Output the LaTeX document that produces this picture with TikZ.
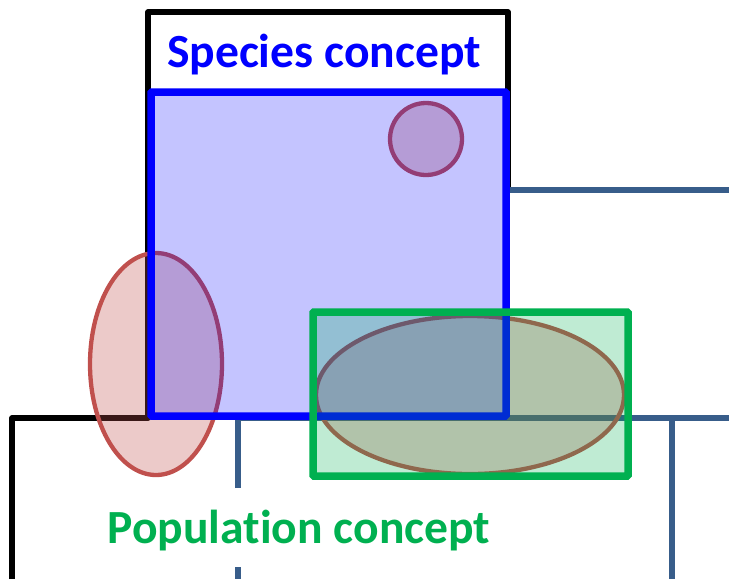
\documentclass[tikz,border=0pt]{standalone}
\usepackage{fontspec}
\setmainfont{Carlito}[Ligatures=NoCommon]
\usepackage{tikz}
\usetikzlibrary{shapes.geometric}
\definecolor{treeblue}{HTML}{385D8A}
\definecolor{cladered}{HTML}{C0504D}
\definecolor{popgreen}{HTML}{00B050}

\begin{document}
\begin{tikzpicture}[x=1pt, y=-1pt, font=\bfseries\fontsize{47.6}{56}\selectfont,
  branch/.style={line width=5.5pt, line join=round},
  group/.style={ellipse, draw=cladered, line width=4.3pt, fill=cladered, fill opacity=0.3, inner sep=0pt},
  concept/.style={rectangle, line width=7.5pt, rounded corners=1pt, inner sep=0pt},
  label/.style={inner sep=0pt, anchor=base}]
\useasboundingbox (0,0) rectangle (729,579);
% tree
\draw[branch, black] (12,579) |- (148,418) |- (508,12) -- (508,190);
\draw[branch, treeblue] (508,190) -- (729,190);
\draw[branch, treeblue] (238,488) -- (238,418) -- (729,418);
\draw[branch, treeblue] (238,567) -- (238,579);
\draw[branch, treeblue] (672,418) -- (672,579);
% groups
\node[group, minimum width=132pt, minimum height=222pt] (left) at (156,364) {};
\node[group, minimum width=72pt, minimum height=72pt] (small) at (426,139) {};
\node[group, minimum width=308pt, minimum height=158pt] (wide) at (470,395) {};
% concepts
\node[concept, draw=blue, fill=blue, fill opacity=0.23, minimum width=355pt, minimum height=324pt] (species) at (328.5,254) {};
\node[concept, draw=popgreen, fill=popgreen, fill opacity=0.25, minimum width=315pt, minimum height=164pt] (population) at (470.5,394) {};
\node[label, text=blue] (specieslabel) at (324,67) {Species concept};
\node[label, text=popgreen] (populationlabel) at (299,543) {Population concept};
\end{tikzpicture}
\end{document}
